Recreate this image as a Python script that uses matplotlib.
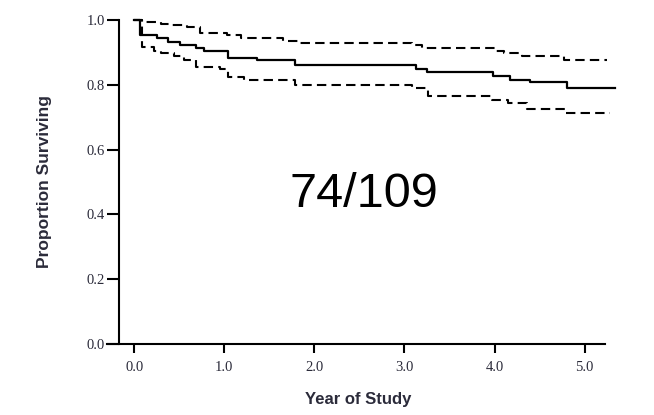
import matplotlib.pyplot as plt
import numpy as np

# Kaplan-Meier estimate with 95% band
# (time of each drop in years, survival after the drop)
km_times = [0.06, 0.25, 0.37, 0.51, 0.69, 0.77, 1.04, 1.36, 1.78, 3.13, 3.25, 3.98, 4.17, 4.39, 4.80]
km_surv = [0.954, 0.944, 0.933, 0.923, 0.913, 0.903, 0.884, 0.877, 0.861, 0.848, 0.838, 0.828, 0.815, 0.807, 0.791]
km_end = 5.34

upper_times = [0.09, 0.30, 0.41, 0.58, 0.73, 0.88, 1.03, 1.19, 1.65, 1.82, 3.08, 3.20, 4.00, 4.10, 4.30, 4.77]
upper_surv = [0.993, 0.988, 0.985, 0.977, 0.961, 0.959, 0.952, 0.944, 0.935, 0.930, 0.922, 0.913, 0.905, 0.897, 0.890, 0.875]
upper_end = 5.25

lower_times = [0.09, 0.22, 0.30, 0.44, 0.55, 0.68, 0.95, 1.04, 1.22, 1.78, 3.08, 3.26, 3.97, 4.15, 4.36, 4.78]
lower_surv = [0.915, 0.905, 0.897, 0.889, 0.877, 0.856, 0.850, 0.823, 0.815, 0.799, 0.789, 0.766, 0.753, 0.743, 0.725, 0.712]
lower_end = 5.28

x_ticks = [0.0, 1.0, 2.0, 3.0, 4.0, 5.0]
y_ticks = [0.0, 0.2, 0.4, 0.6, 0.8, 1.0]
label_text = "74/109"


def step_xy(times, surv, end):
    # start at 1.0 at time 0, hold to the end
    x = np.concatenate([[0.0], times, [end]])
    y = np.concatenate([[1.0], surv, [surv[-1]]])
    return x, y


fig = plt.figure(figsize=(6.54, 4.15), dpi=100)
ax = fig.add_axes([0.182, 0.171, 0.760, 0.781])

x, y = step_xy(km_times, km_surv, km_end)
ax.step(x, y, where="post", color="black", lw=1.6, clip_on=False)
for t, s, e in [(upper_times, upper_surv, upper_end), (lower_times, lower_surv, lower_end)]:
    x, y = step_xy(t, s, e)
    line, = ax.step(x, y, where="post", color="black", lw=1.5, clip_on=False)
    line.set_dashes([4.5, 2.5])

ax.set_xlim(-0.17, 5.35)
ax.set_ylim(0, 1.0)
ax.spines["top"].set_visible(False)
ax.spines["right"].set_visible(False)
ax.spines["left"].set_linewidth(1.5)
ax.spines["bottom"].set_linewidth(1.5)
ax.spines["bottom"].set_bounds(-0.30, 5.23)

tick_color = "#2b2b3a"
ax.set_xticks(x_ticks)
ax.set_xticklabels(["%.1f" % v for v in x_ticks])
ax.set_yticks(y_ticks)
ax.set_yticklabels(["%.1f" % v for v in y_ticks])
ax.tick_params(axis="y", length=9, width=1.5, pad=1, labelsize=10.5, labelcolor=tick_color)
ax.tick_params(axis="x", length=6.5, width=1.5, pad=6, labelsize=10.5, labelcolor=tick_color)
for lab in ax.get_xticklabels() + ax.get_yticklabels():
    lab.set_family("Liberation Serif")

ax.set_xlabel("Year of Study", fontsize=12, fontweight="bold", family="Liberation Sans",
              color=tick_color)
ax.xaxis.set_label_coords(0.481, -0.148)
ax.set_ylabel("Proportion Surviving", fontsize=12.5, fontweight="bold", family="Liberation Sans",
              color=tick_color)
ax.yaxis.set_label_coords(-0.135, 0.5)

ax.text(2.55, 0.46, label_text, fontsize=35, family="Liberation Sans",
        ha="center", va="center", color="black")

fig.savefig("out.png", dpi=100)
